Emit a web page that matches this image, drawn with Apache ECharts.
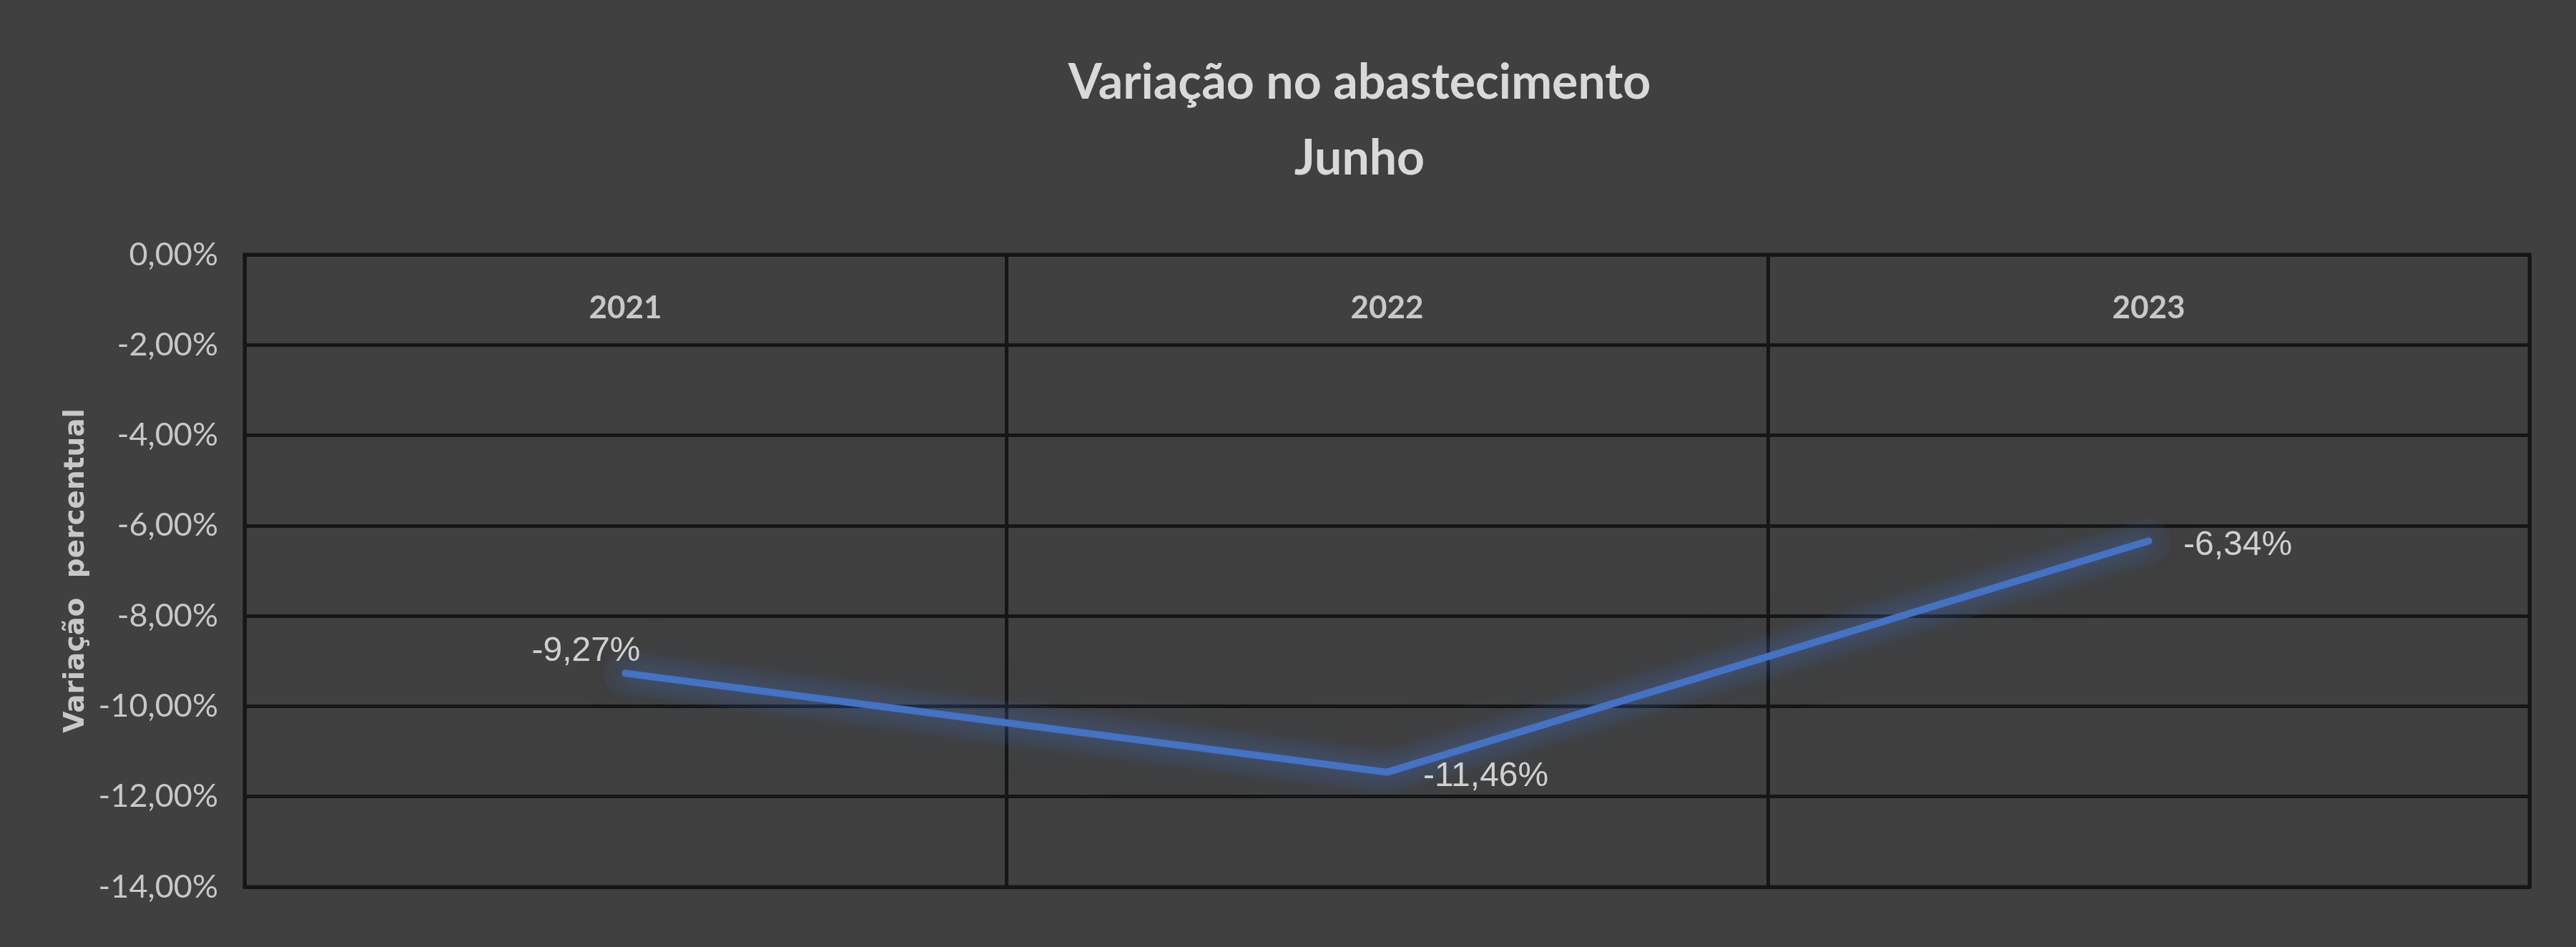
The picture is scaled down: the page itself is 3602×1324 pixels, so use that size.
<!DOCTYPE html>
<html>
<head>
<meta charset="utf-8">
<script src="https://cdn.jsdelivr.net/npm/echarts@6/dist/echarts.min.js"></script>
<style>
html,body{margin:0;padding:0;background:#404040;}
#chart{width:3602px;height:1324px;}
</style>
</head>
<body>
<div id="chart"></div>
<script>
const titleText = "Variação no abastecimento\nJunho";
const yAxisName = "Variação  percentual";
const categories = ["2021", "2022", "2023"];
const values = [-9.27, -11.46, -6.34];
const yTicks = { min: -14, max: 0, interval: 2 };

const fmt = v => v.toFixed(2).replace('.', ',') + '%';

const labelStyles = [
  { position: 'top', distance: 6, offset: [-55, 0] },
  { position: 'right', distance: 50, offset: [0, 6] },
  { position: 'right', distance: 48, offset: [0, 6] }
];

const chart = echarts.init(document.getElementById('chart'));
chart.setOption({
  backgroundColor: '#404040',
  animation: false,
  title: {
    text: titleText,
    left: 1896,
    top: 58,
    textAlign: 'center',
    textStyle: {
      color: '#d9d9d9',
      fontFamily: 'Lato',
      fontWeight: 'bold',
      fontSize: 68,
      lineHeight: 106
    }
  },
  grid: {
    left: 342, right: 65, top: 356, bottom: 84,
    show: true, borderColor: '#161616', borderWidth: 5
  },
  xAxis: {
    type: 'category',
    data: categories,
    position: 'top',
    boundaryGap: true,
    axisLine: { show: true, lineStyle: { color: '#161616', width: 5 } },
    axisTick: { show: false },
    splitLine: { show: true, lineStyle: { color: '#161616', width: 5 } },
    axisLabel: {
      inside: true,
      margin: 53,
      color: '#c8c8c8',
      fontFamily: 'Lato',
      fontWeight: 'bold',
      fontSize: 44
    }
  },
  yAxis: {
    type: 'value',
    min: yTicks.min, max: yTicks.max, interval: yTicks.interval,
    name: yAxisName,
    nameLocation: 'middle',
    nameGap: 214,
    nameTextStyle: {
      color: '#c8c8c8',
      fontFamily: 'DejaVu Sans',
      fontWeight: 'bold',
      fontSize: 39
    },
    axisLine: { show: true, lineStyle: { color: '#161616', width: 5 } },
    axisTick: { show: false },
    splitLine: { show: true, lineStyle: { color: '#161616', width: 5 } },
    axisLabel: {
      margin: 37,
      color: '#c8c8c8',
      fontFamily: 'Lato',
      fontSize: 45,
      formatter: v => fmt(v)
    }
  },
  series: [{
    type: 'line',
    data: values,
    silent: true,
    symbol: 'none',
    z: 1,
    lineStyle: {
      color: 'rgba(68,114,196,0.07)',
      width: 60,
      cap: 'round',
      join: 'round',
      shadowColor: 'rgba(68,114,196,0.5)',
      shadowBlur: 90
    }
  }, {
    type: 'line',
    data: values.map((v, i) => ({ value: v, label: labelStyles[i] })),
    showSymbol: true,
    symbol: 'circle',
    symbolSize: 1,
    z: 3,
    itemStyle: { color: 'rgba(0,0,0,0)' },
    lineStyle: {
      color: '#4472c4',
      width: 10,
      cap: 'round',
      join: 'round',
      shadowColor: 'rgba(68,114,196,0.8)',
      shadowBlur: 30
    },
    label: {
      show: true,
      color: '#d0d0d0',
      fontFamily: "'Liberation Sans', sans-serif",
      fontSize: 48,
      formatter: p => fmt(p.value)
    }
  }]
});
</script>
</body>
</html>
